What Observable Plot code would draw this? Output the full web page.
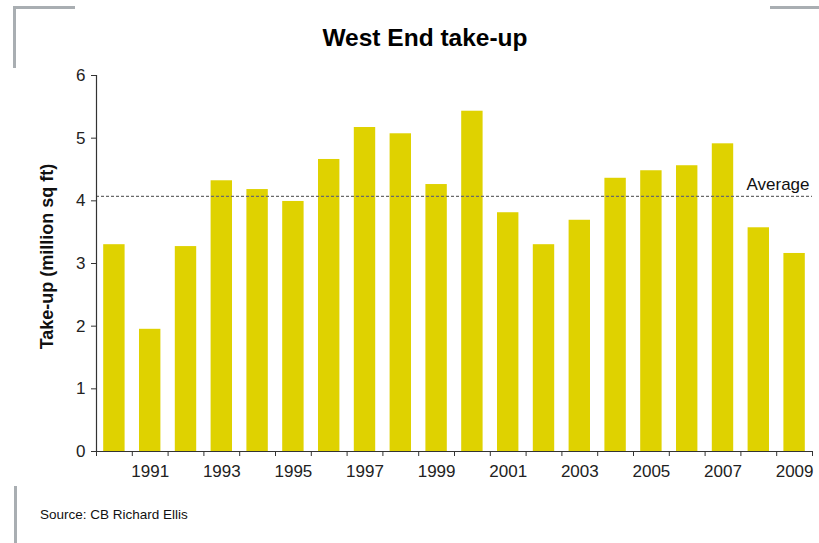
<!DOCTYPE html>
<html>
<head>
<meta charset="utf-8">
<script src="https://cdn.jsdelivr.net/npm/d3@7"></script>
<script src="https://cdn.jsdelivr.net/npm/@observablehq/plot@0.6"></script>
<style>
  html, body { margin: 0; padding: 0; background: #fff; }
  #page { position: relative; width: 819px; height: 543px; overflow: hidden; font-family: "Liberation Sans", Arial, sans-serif; }
  .deco { position: absolute; background: #a9aeb2; }
  #title { position: absolute; top: 26px; left: 0; width: 850px; text-align: center; font-size: 24.5px; line-height: 24.5px; font-weight: bold; color: #000; }
  #chart { position: absolute; top: 60px; left: 0; }
  #source { position: absolute; top: 508px; left: 40px; font-size: 13.5px; line-height: 13.5px; color: #111; }
</style>
</head>
<body>
<div id="page">
  <div class="deco" style="left:13px;top:6px;width:62px;height:3px"></div>
  <div class="deco" style="left:13px;top:6px;width:3px;height:62px"></div>
  <div class="deco" style="left:770px;top:6px;width:49px;height:3px"></div>
  <div class="deco" style="left:14px;top:486px;width:3px;height:57px"></div>
  <div id="title">West End take-up</div>
  <div id="chart"></div>
  <div id="source">Source: CB Richard Ellis</div>
</div>
<script>
// Data
const years = [1990, 1991, 1992, 1993, 1994, 1995, 1996, 1997, 1998, 1999,
               2000, 2001, 2002, 2003, 2004, 2005, 2006, 2007, 2008, 2009];
const takeUp = [3.30, 1.95, 3.27, 4.32, 4.18, 3.99, 4.66, 5.17, 5.07, 4.26,
                5.43, 3.81, 3.30, 3.69, 4.36, 4.48, 4.56, 4.91, 3.57, 3.16];
const average = 4.07;
const averageLabel = "Average";
const yTicks = [0, 1, 2, 3, 4, 5, 6];
const xLabelYears = [1991, 1993, 1995, 1997, 1999, 2001, 2003, 2005, 2007, 2009];
const yLabel = "Take-up (million sq ft)";

const data = years.map((year, i) => ({year, value: takeUp[i]}));
const bandEdges = years.map(y => y - 0.5).concat([years[years.length - 1] + 0.5]);

const chart = Plot.plot({
  width: 819,
  height: 430,
  marginLeft: 96,
  marginRight: 7,
  marginTop: 15,
  marginBottom: 39,
  style: {fontFamily: '"Liberation Sans", Arial, sans-serif', color: "#222", background: "transparent"},
  x: {domain: [bandEdges[0], bandEdges[bandEdges.length - 1]], axis: null},
  y: {domain: [0, 6], axis: null},
  marks: [
    Plot.rect(data, {
      x1: d => d.year - 0.5, x2: d => d.year + 0.5,
      y1: 0, y2: "value",
      insetLeft: 7.2, insetRight: 7.2,
      fill: "#dfd200"
    }),
    Plot.ruleY([average], {stroke: "#6a6a6a", strokeWidth: 1.3, strokeDasharray: "3,2"}),
    Plot.text([averageLabel], {
      frameAnchor: "right", y: () => average, text: d => d,
      textAnchor: "end", dx: -3, dy: -12, fontSize: 17, fill: "#111"
    }),
    Plot.ruleY([0], {stroke: "#333", strokeWidth: 1.2}),
    Plot.ruleX([bandEdges[0]], {stroke: "#333", strokeWidth: 1.2}),
    Plot.axisY({ticks: yTicks, tickSize: 5, tickPadding: 6, fontSize: 17, label: null, tickFormat: d => String(d), stroke: "#333"}),
    Plot.axisX({ticks: bandEdges, tickSize: 5, tickFormat: () => "", label: null, stroke: "#333"}),
    Plot.axisX({ticks: xLabelYears, tickSize: 0, tickPadding: 13, fontSize: 17, label: null, tickFormat: d => String(d)}),
    Plot.text([yLabel], {
      frameAnchor: "left", text: d => d, rotate: -90, textAnchor: "middle",
      dx: -49, dy: -7, fontSize: 18, fontWeight: "bold", fill: "#111"
    })
  ]
});
document.getElementById("chart").appendChild(chart);
</script>
</body>
</html>
